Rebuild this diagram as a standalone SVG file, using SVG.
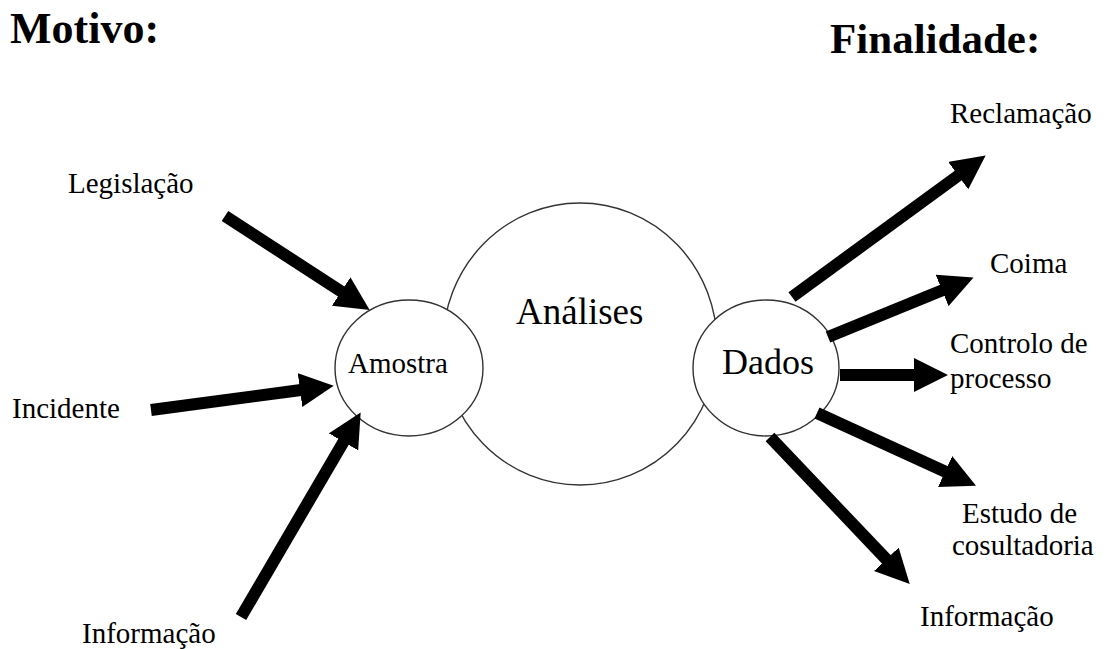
<svg xmlns="http://www.w3.org/2000/svg" width="1108" height="649" viewBox="0 0 1108 649">
<style>
  .lbl { font-family: "Liberation Serif", "Times New Roman", serif; font-size: 29px; fill: #000; }
  .ttl { font-family: "Liberation Serif", "Times New Roman", serif; font-size: 44px; font-weight: bold; fill: #000; }
  .circ { fill: #fff; stroke: #333; stroke-width: 1.4; }
  .arr { stroke: #000; stroke-width: 12; fill: none; stroke-linecap: butt; marker-end: url(#head); }
</style>
<defs>
  <marker id="head" markerUnits="userSpaceOnUse" viewBox="0 -17 34 34" markerWidth="34" markerHeight="34" refX="1" refY="0" orient="auto">
    <path d="M0,-17 L34,0 L0,17 z" fill="#000"/>
  </marker>
</defs>
<rect width="1108" height="649" fill="#fff"/>

<g id="title-motivo"><text class="ttl" x="10" y="43">Motivo:</text></g>
<g id="title-finalidade"><text class="ttl" x="830" y="53" style="font-size:43px">Finalidade:</text></g>

<g id="node-analises">
  <ellipse class="circ" cx="580" cy="344" rx="137" ry="141"/>
  <text class="lbl" x="516" y="324" style="font-size:37px">Análises</text>
</g>
<g id="node-amostra">
  <ellipse class="circ" cx="409" cy="368" rx="74" ry="68"/>
  <text class="lbl" x="348" y="373">Amostra</text>
</g>
<g id="node-dados">
  <ellipse class="circ" cx="766" cy="368" rx="73" ry="68"/>
  <text class="lbl" x="722" y="374" style="font-size:36px">Dados</text>
</g>

<g id="in-legislacao"><text class="lbl" x="68" y="193">Legislação</text></g>
<g id="in-incidente"><text class="lbl" x="12" y="418">Incidente</text></g>
<g id="in-informacao"><text class="lbl" x="82" y="643">Informação</text></g>

<g id="out-reclamacao"><text class="lbl" x="950" y="123">Reclamação</text></g>
<g id="out-coima"><text class="lbl" x="990" y="273">Coima</text></g>
<g id="out-controlo"><text class="lbl" x="950" y="353">Controlo de</text><text class="lbl" x="950" y="388">processo</text></g>
<g id="out-estudo"><text class="lbl" x="962" y="523">Estudo de</text><text class="lbl" x="952" y="555">cosultadoria</text></g>
<g id="out-informacao"><text class="lbl" x="920" y="626">Informação</text></g>

<g id="connectors">
  <line class="arr" x1="225" y1="216" x2="342" y2="292"/>
  <line class="arr" x1="151" y1="410" x2="301" y2="390"/>
  <line class="arr" x1="241" y1="617" x2="344" y2="441"/>
  <line class="arr" x1="792" y1="297" x2="959" y2="175"/>
  <line class="arr" x1="828" y1="337" x2="943" y2="290"/>
  <line class="arr" x1="840" y1="375" x2="915" y2="375"/>
  <line class="arr" x1="817" y1="413" x2="946" y2="472"/>
  <line class="arr" x1="770" y1="437" x2="887" y2="560"/>
</g>
</svg>
